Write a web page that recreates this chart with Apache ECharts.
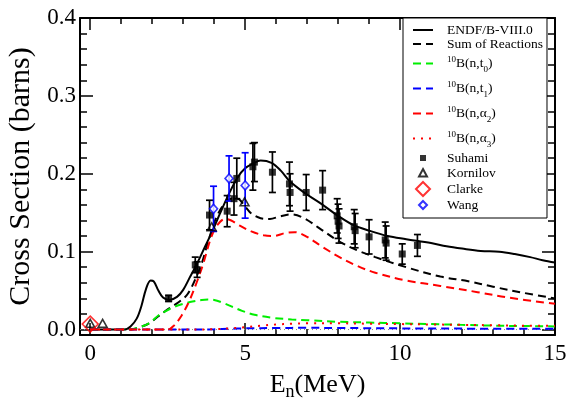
<!DOCTYPE html>
<html><head><meta charset="utf-8">
<script src="https://cdn.jsdelivr.net/npm/echarts@6/dist/echarts.min.js"></script>
<style>html,body{margin:0;padding:0;background:#fff;}#c{width:569px;height:399px;}</style>
</head><body><div id="c"></div>
<script>
// ---- data ----
const endfE  = [0,1.1,1.3,1.5,1.65,1.8,1.95,2.05,2.2,2.35,2.55,2.8,3.0,3.2,3.45,3.7,3.95,4.2,4.45,4.75,5.0,5.25,5.5,5.85,6.15,6.45,6.9,7.4,8.0,8.5,9.0,9.6,10.2,11.0,11.5,12.0,12.6,13.2,13.7,14.2,14.6,15.0];
const endfXS = [0,0,0.004,0.014,0.03,0.052,0.063,0.062,0.05,0.041,0.038,0.042,0.051,0.066,0.085,0.106,0.127,0.15,0.172,0.195,0.207,0.213,0.217,0.214,0.204,0.19,0.176,0.163,0.146,0.134,0.127,0.12,0.116,0.111,0.107,0.104,0.101,0.1,0.097,0.093,0.089,0.086];

const sumE  = [0,1.3,1.6,1.9,2.2,2.5,2.85,3.15,3.45,3.6,3.8,4.05,4.3,4.55,4.75,5.0,5.2,5.5,5.8,6.1,6.5,6.9,7.4,8.0,8.6,9.2,10.2,11.3,12.2,13.0,14.0,15.0];
const sumXS = [0,0,0.003,0.008,0.017,0.026,0.035,0.046,0.07,0.085,0.112,0.142,0.16,0.168,0.168,0.158,0.149,0.143,0.142,0.145,0.148,0.143,0.13,0.114,0.102,0.093,0.08,0.068,0.062,0.055,0.047,0.04];

const t0E  = [0,1.2,1.5,1.8,2.0,2.2,2.45,2.7,3.0,3.3,3.6,3.8,4.0,4.3,4.6,4.9,5.3,5.9,6.5,7.0,8.0,9.0,10.0,11.0,12.0,13.0,14.0,15.0];
const t0XS = [0,0,0.002,0.006,0.011,0.018,0.024,0.029,0.033,0.036,0.038,0.0385,0.038,0.034,0.029,0.024,0.019,0.015,0.013,0.012,0.01,0.009,0.008,0.007,0.006,0.005,0.0045,0.004];

const t1E  = [0,3.5,4.0,4.5,5.0,6.0,7.0,8.0,10.0,12.0,15.0];
const t1XS = [0,0,0.0003,0.001,0.0015,0.002,0.0022,0.002,0.0015,0.0012,0.001];

const a2E  = [0,2.5,2.7,2.95,3.2,3.45,3.65,3.9,4.1,4.35,4.55,4.8,5.2,5.6,5.9,6.3,6.6,6.95,7.5,8.0,8.6,9.2,10.2,11.3,12.5,13.5,15.0];
const a2XS = [0,0,0.005,0.018,0.037,0.062,0.085,0.118,0.134,0.142,0.14,0.134,0.126,0.121,0.12,0.124,0.125,0.12,0.106,0.094,0.082,0.073,0.063,0.056,0.048,0.041,0.033];

const a3E  = [0,3.5,4.0,4.5,5.0,5.5,6.0,6.5,7.0,8.0,9.0,10.0,11.0,12.0,13.0,14.0,15.0];
const a3XS = [0,0,0.0005,0.0015,0.003,0.005,0.0065,0.0075,0.008,0.008,0.0075,0.007,0.0065,0.006,0.0055,0.005,0.005];

const suhamiE   = [2.53,3.39,3.45,3.85,4.42,4.64,4.73,5.25,5.3,5.88,6.43,6.45,6.97,7.5,7.97,8.0,8.03,8.52,8.55,9.0,9.52,9.55,10.07,10.56];
const suhamiXS  = [0.040,0.083,0.077,0.147,0.152,0.168,0.194,0.209,0.215,0.202,0.187,0.176,0.176,0.179,0.146,0.139,0.133,0.132,0.127,0.119,0.115,0.111,0.097,0.108];
const suhamiErr = [0.004,0.010,0.010,0.019,0.020,0.021,0.026,0.030,0.025,0.026,0.028,0.024,0.023,0.025,0.022,0.022,0.022,0.022,0.022,0.022,0.023,0.022,0.013,0.014];

const kornilovE  = [0,0.4,3.92,4.98];
const kornilovXS = [0.008,0.008,0.132,0.164];

const clarkeE  = [0];
const clarkeXS = [0.007];

const wangE   = [3.98,4.48,5.0];
const wangXS  = [0.155,0.194,0.185];
const wangErr = [0.029,0.029,0.042];

const xMajor = [0,5,10,15];
const xMinor = [1,2,3,4,6,7,8,9,11,12,13,14];
const yMajor = [0,0.1,0.2,0.3,0.4];
const yMinor = [0.02,0.04,0.06,0.08,0.12,0.14,0.16,0.18,0.22,0.24,0.26,0.28,0.32,0.34,0.36,0.38];

const seriesNames = ['ENDF/B-VIII.0','Sum of Reactions','10B(n,t0)','10B(n,t1)','10B(n,a2)','10B(n,a3)','Suhami','Kornilov','Clarke','Wang'];
const legendRich = {
  'ENDF/B-VIII.0':'ENDF/B-VIII.0',
  'Sum of Reactions':'Sum of Reactions',
  '10B(n,t0)':'{sup|10}{m|B(n,t}{sub|0}{m|)}',
  '10B(n,t1)':'{sup|10}{m|B(n,t}{sub|1}{m|)}',
  '10B(n,a2)':'{sup|10}{m|B(n,α}{sub|2}{m|)}',
  '10B(n,a3)':'{sup|10}{m|B(n,α}{sub|3}{m|)}',
  'Suhami':'Suhami','Kornilov':'Kornilov','Clarke':'Clarke','Wang':'Wang'
};

// ---- build ----
const XMIN = -0.33, XMAX = 15, YMIN = -0.007, YMAX = 0.4;
const FONT = 'Liberation Serif';
const zip = (a,b) => a.map((v,i)=>[v,b[i]]);
const zip3 = (a,b,c) => a.map((v,i)=>[v,b[i],c[i]]);

function xAx(pos, vals, len, labels, line){
  return {type:'value', min:XMIN, max:XMAX, position:pos,
    axisLine:{show:line, onZero:false, lineStyle:{color:'#000', width:2}},
    axisTick:{show:true, inside:true, length:len, customValues:vals, lineStyle:{color:'#000', width:1.5}},
    axisLabel:{show:labels, customValues:vals, color:'#000', fontFamily:FONT, fontSize:23, margin:7},
    splitLine:{show:false}};
}
function yAx(pos, vals, len, labels, line){
  return {type:'value', min:YMIN, max:YMAX, position:pos,
    axisLine:{show:line, onZero:false, lineStyle:{color:'#000', width:2}},
    axisTick:{show:true, inside:true, length:len, customValues:vals, lineStyle:{color:'#000', width:1.5}},
    axisLabel:{show:labels, customValues:vals, color:'#000', fontFamily:FONT, fontSize:23, margin:4,
      formatter:v=>v.toFixed(1)},
    splitLine:{show:false}};
}
const xAxes = [xAx('bottom',xMajor,12,true,true), xAx('bottom',xMinor,6,false,false),
               xAx('top',xMajor,12,false,true), xAx('top',xMinor,6,false,false)];
xAxes[0].name = '{a|E}{s|n}{a|(MeV)}';
xAxes[0].nameLocation = 'middle';
xAxes[0].nameGap = 34;
xAxes[0].nameTextStyle = {rich:{a:{fontFamily:FONT,fontSize:26,color:'#000'}, s:{fontFamily:FONT,fontSize:18,color:'#000',padding:[14,0,0,0]}}};
const yAxes = [yAx('left',yMajor,13,true,true), yAx('left',yMinor,7,false,false),
               yAx('right',yMajor,13,false,true), yAx('right',yMinor,7,false,false)];
yAxes[0].name = 'Cross Section (barns)';
yAxes[0].nameLocation = 'middle';
yAxes[0].nameGap = 37;
yAxes[0].nameTextStyle = {fontFamily:FONT, fontSize:30, color:'#000'};

function lineS(name, E, XS, color, type){
  return {name, type:'line', data:zip(E,XS), smooth:0.35, symbol:'none', showSymbol:false,
    lineStyle:{color, width:2, type}, itemStyle:{color}, z:2};
}
function errS(E, XS, ER, color){
  return {type:'custom', data:zip3(E,XS,ER), z:3,
    renderItem:function(params, api){
      const x=api.value(0), y=api.value(1), e=api.value(2);
      const t=api.coord([x,y+e]), b=api.coord([x,y-e]), hw=3.5;
      const st={stroke:color, lineWidth:1.7};
      return {type:'group', children:[
        {type:'line', shape:{x1:t[0],y1:t[1],x2:b[0],y2:b[1]}, style:st},
        {type:'line', shape:{x1:t[0]-hw,y1:t[1],x2:t[0]+hw,y2:t[1]}, style:st},
        {type:'line', shape:{x1:b[0]-hw,y1:b[1],x2:b[0]+hw,y2:b[1]}, style:st}]};
    }};
}

const series = [
  {type:'line', data:[[XMIN,0],[15.5,0]], symbol:'none', clip:false, silent:true, z:1,
   lineStyle:{color:'#888', width:1, type:[1,3]}},
  lineS(seriesNames[0], endfE, endfXS, '#000', 'solid'),
  lineS(seriesNames[1], sumE, sumXS, '#000', [8,5]),
  lineS(seriesNames[2], t0E, t0XS, '#00ee00', [8,5]),
  lineS(seriesNames[3], t1E, t1XS, '#0000ff', [8,5]),
  lineS(seriesNames[4], a2E, a2XS, '#ff0000', [8,5]),
  lineS(seriesNames[5], a3E, a3XS, '#ff0000', [2,6]),
  errS(suhamiE, suhamiXS, suhamiErr, '#000'),
  errS(wangE, wangXS, wangErr, '#0000ff'),
  {name:'Suhami', type:'scatter', data:zip(suhamiE,suhamiXS), symbol:'rect', symbolSize:7, z:4,
   itemStyle:{color:'#000'}},
  {name:'Kornilov', type:'scatter', data:zip(kornilovE,kornilovXS), symbol:'triangle', symbolSize:[9,8], z:4,
   itemStyle:{color:'rgba(255,255,255,0)', borderColor:'#000', borderWidth:1.5}},
  {name:'Clarke', type:'scatter', data:zip(clarkeE,clarkeXS), symbol:'diamond', symbolSize:16, z:4,
   itemStyle:{color:'rgba(255,255,255,0)', borderColor:'#ff0000', borderWidth:1.5}},
  {name:'Wang', type:'scatter', data:zip(wangE,wangXS), symbol:'diamond', symbolSize:[8,9], z:5,
   itemStyle:{color:'#ffffff', borderColor:'#0000ff', borderWidth:1.6}}
];

const legendIcons = {
  'Suhami':'path://M0 0M14 14M4 4L10 4L10 10L4 10Z',
  'Kornilov':'path://M0 0M14 14M7 3L11 10.5L3 10.5Z',
  'Clarke':'path://M7 0L14 7L7 14L0 7Z',
  'Wang':'path://M0 0M14 14M7 3L11 7L7 11L3 7Z'
};
const legendData = seriesNames.map(n => legendIcons[n] ? {name:n, icon:legendIcons[n]}
                                                        : {name:n, itemStyle:{opacity:0}});

const option = {
  animation:false,
  backgroundColor:'#fff',
  grid:{left:80, right:14, top:18, bottom:64, containLabel:false, outerBoundsMode:'none'},
  xAxis:xAxes, yAxis:yAxes,
  legend:{orient:'vertical', left:403, top:18, itemGap:0, itemWidth:20, itemHeight:14,
    padding:[5,4,5,9], backgroundColor:'#fff', borderColor:'#000', borderWidth:1,
    data:legendData, selectedMode:false,
    formatter:n=>legendRich[n],
    textStyle:{fontFamily:FONT, fontSize:13.5, color:'#000', lineHeight:14, padding:[0,0,0,9],
      rich:{m:{fontFamily:FONT,fontSize:13.5,color:'#000',lineHeight:25},
            sup:{fontFamily:FONT,fontSize:9,color:'#000',padding:[0,0,8,0]},
            sub:{fontFamily:FONT,fontSize:9,color:'#000',padding:[12,0,0,0]}}}},
  series
};
const chart = echarts.init(document.getElementById('c'), null, {renderer:'canvas'});
chart.setOption(option);
</script></body></html>
